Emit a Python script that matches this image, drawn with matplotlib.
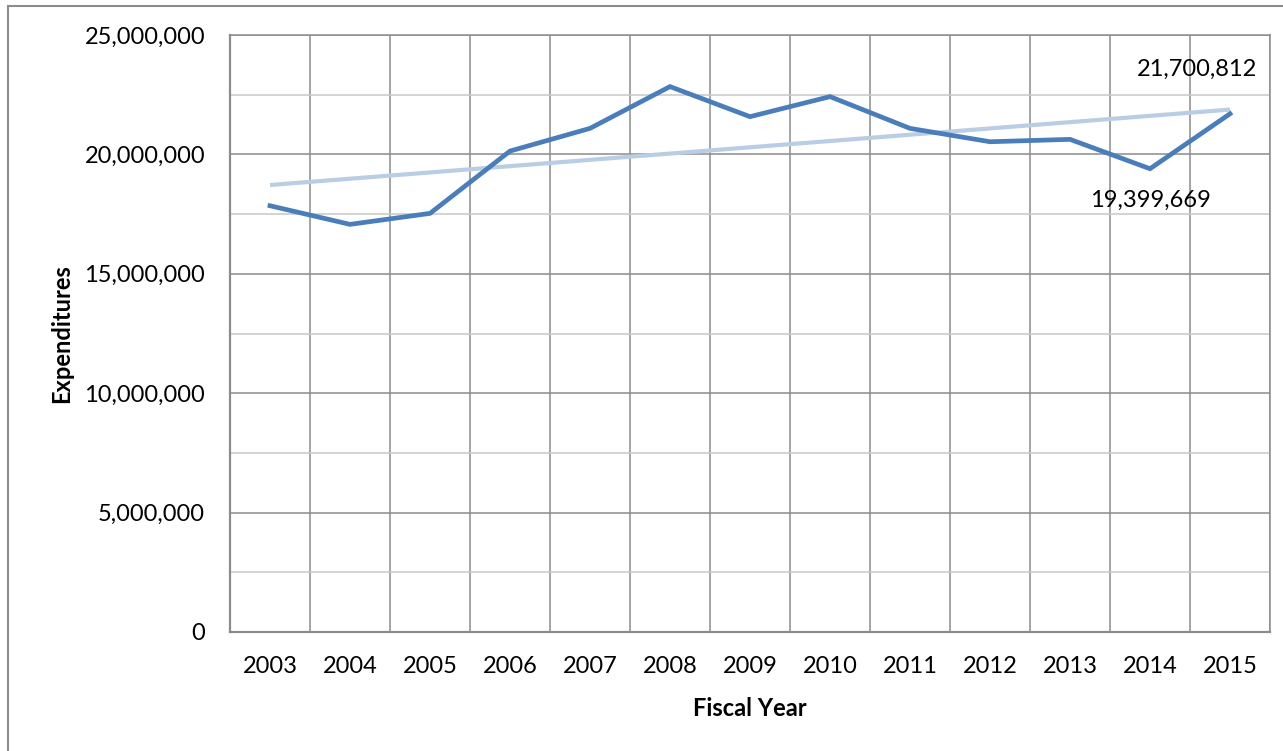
import numpy as np
import matplotlib
matplotlib.use("Agg")
import matplotlib.pyplot as plt
from matplotlib.ticker import FuncFormatter, MultipleLocator
from matplotlib.patches import Rectangle

# Annual expenditures by fiscal year
years = ["2003", "2004", "2005", "2006", "2007", "2008", "2009",
         "2010", "2011", "2012", "2013", "2014", "2015"]
expenditures = [17850000, 17070000, 17530000, 20140000, 21090000, 22840000,
                21580000, 22420000, 21090000, 20530000, 20630000, 19399669,
                21700812]
labelled_years = ["2014", "2015"]

plt.rcParams["font.family"] = ["Lato", "DejaVu Sans"]

W, H = 1283, 751
FS = 17
fig = plt.figure(figsize=(W / 100, H / 100), dpi=100)
ax = fig.add_axes([230 / W, 1 - 632 / H, (1270 - 230) / W, (632 - 35) / H])

x = np.arange(len(years))
y = np.array(expenditures, dtype=float)

# Linear trend fitted to the series
coef = np.polyfit(x, y, 1)
trend = np.polyval(coef, x)

ax.plot(x, trend, color="#b9cde5", lw=3.0, solid_capstyle="butt", zorder=3)
ax.plot(x, y, color="#4a7ebb", lw=3.4, solid_joinstyle="miter", zorder=4)

# Value labels
offsets = {"2014": (0, -32), "2015": (-33, 44)}
for yr in labelled_years:
    i = years.index(yr)
    ax.annotate(f"{expenditures[i]:,.0f}", (x[i], y[i]),
                xytext=offsets[yr], textcoords="offset pixels",
                ha="center", va="center", fontsize=FS, color="black")

ax.set_xlim(-0.5, len(years) - 0.5)
ax.set_ylim(0, 25000000)
ax.set_xticks(x)
ax.set_xticklabels(years)
ax.set_xticks(np.arange(-0.5, len(years), 1.0), minor=True)
ax.yaxis.set_major_locator(MultipleLocator(5000000))
ax.yaxis.set_minor_locator(MultipleLocator(2500000))
ax.yaxis.set_major_formatter(FuncFormatter(lambda v, p: f"{v:,.0f}"))

ax.tick_params(axis="both", which="both", length=0, labelsize=FS)
ax.tick_params(axis="y", pad=18)
ax.tick_params(axis="x", pad=17)

ax.grid(False)
ax.grid(which="minor", axis="x", color="#8c8c8c", lw=1.1)
ax.grid(which="major", axis="y", color="#8c8c8c", lw=1.1)
ax.grid(which="minor", axis="y", color="#c8c8c8", lw=1.1)
ax.set_axisbelow(True)
for s in ax.spines.values():
    s.set_color("#8c8c8c")
    s.set_linewidth(1.1)
ax.spines["left"].set_linewidth(1.6)
ax.spines["bottom"].set_linewidth(1.6)

ax.set_xlabel("Fiscal Year", fontsize=FS, fontweight="bold")
ax.set_ylabel("Expenditures", fontsize=FS, fontweight="bold")
ax.xaxis.set_label_coords(0.5, -(697 - 632) / (632 - 35))
ax.yaxis.set_label_coords(-(230 - 73) / (1270 - 230), 0.5)

# Outer chart border
fig.patches.append(Rectangle((8 / W, -0.1), 1.2, 1 - 6 / H + 0.1,
                             transform=fig.transFigure, fill=False,
                             edgecolor="#8c8c8c", lw=1.5))

fig.savefig("out.png", dpi=100, facecolor="white")
